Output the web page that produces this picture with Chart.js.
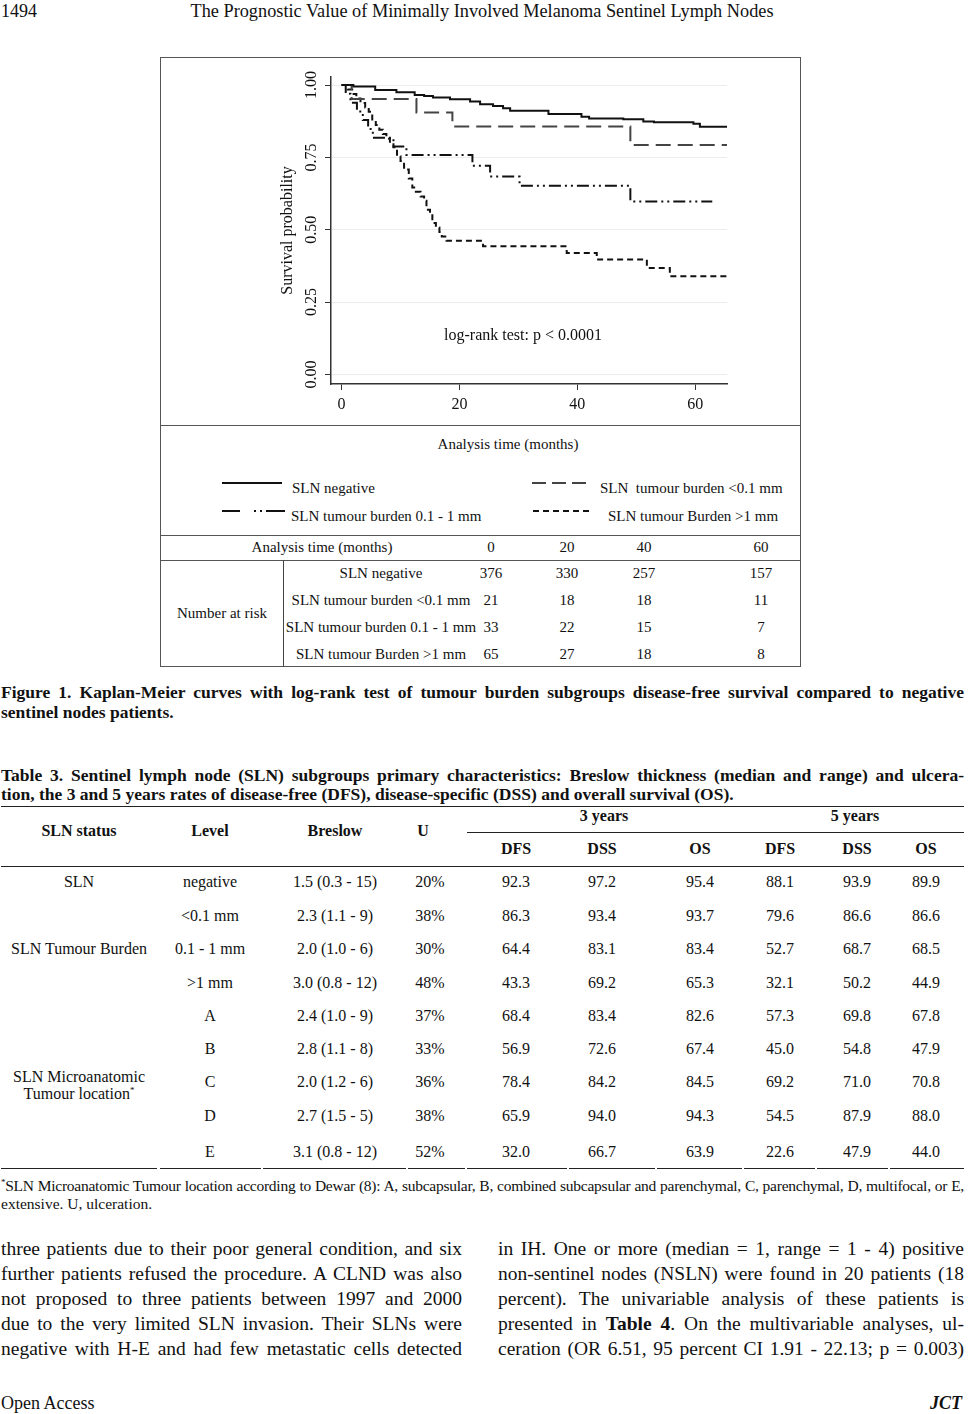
<!DOCTYPE html>
<html>
<head>
<meta charset="utf-8">
<script src="https://cdn.jsdelivr.net/npm/chart.js@4.4.1/dist/chart.umd.min.js"></script>
<style>
  body { margin: 0; background: #fff; font-family: "Liberation Serif", "Times New Roman", serif; color: #111; }
  #page { position: relative; width: 968px; height: 1414px; overflow: hidden; }
  .a { position: absolute; white-space: nowrap; }
  .c { transform: translate(-50%, -50%); }
  .l { transform: translate(0, -50%); }
  .j { text-align: justify; text-align-last: justify; white-space: nowrap; }
  .b { font-weight: bold; }
  .hl { position: absolute; height: 0; border-top: 1px solid #222; }
  .vl { position: absolute; width: 0; border-left: 1px solid #444; }
  #frame { position: absolute; left: 160px; top: 57px; width: 641px; height: 610px; box-sizing: border-box; border: 1px solid #555; }
  .chartTxt { font-size: 15px; }
  .risk { font-size: 15px; }
  .tbl { font-size: 16px; }
  .cap { font-size: 17.5px; }
  .body { font-size: 19.5px; line-height: 25px; }
</style>
</head>
<body>
<div id="page">
  <div class="a l" style="left:1px;top:11px;font-size:18px;">1494</div>
  <div class="a c" style="left:482px;top:11px;font-size:18.3px;">The Prognostic Value of Minimally Involved Melanoma Sentinel Lymph Nodes</div>

  <div id="frame"></div>
  <canvas id="kmChart" width="639" height="366" style="position:absolute;left:161px;top:58px;"></canvas>
  <div class="a c" style="left:523px;top:335px;font-size:16px;">log-rank test: p &lt; 0.0001</div>

  <div class="hl" style="left:160px;top:425px;width:641px;border-color:#555;"></div>
  <div class="a c chartTxt" style="left:508px;top:444px;">Analysis time (months)</div>
  <div class="hl" style="left:160px;top:535px;width:641px;border-color:#555;"></div>
  <div class="hl" style="left:160px;top:560px;width:641px;border-color:#555;"></div>
  <div class="vl" style="left:283px;top:560px;height:107px;"></div>

  <div class="a j b cap" data-w="963" style="left:1px;top:682px;">Figure 1. Kaplan-Meier curves with log-rank test of tumour burden subgroups disease-free survival compared to negative</div>
  <div class="a b cap" style="left:1px;top:702px;">sentinel nodes patients.</div>

  <div class="a j b cap" data-w="963" style="left:1px;top:765px;">Table 3. Sentinel lymph node (SLN) subgroups primary characteristics: Breslow thickness (median and range) and ulcera-</div>
  <div class="a b cap" style="left:1px;top:784px;">tion, the 3 and 5 years rates of disease-free (DFS), disease-specific (DSS) and overall survival (OS).</div>

  <div class="a j" data-w="963" style="left:1px;top:1177px;font-size:15.5px;"><sup style="font-size:9px;">*</sup>SLN Microanatomic Tumour location according to Dewar (8): A, subcapsular, B, combined subcapsular and parenchymal, C, parenchymal, D, multifocal, or E,</div>
  <div class="a" style="left:1px;top:1195px;font-size:15.5px;">extensive. U, ulceration.</div>

  <div class="a body" style="left:1px;top:1236px;">
    <div class="j" data-w="461">three patients due to their poor general condition, and six</div>
    <div class="j" data-w="461">further patients refused the procedure. A CLND was also</div>
    <div class="j" data-w="461">not proposed to three patients between 1997 and 2000</div>
    <div class="j" data-w="461">due to the very limited SLN invasion. Their SLNs were</div>
    <div class="j" data-w="461">negative with H-E and had few metastatic cells detected</div>
  </div>
  <div class="a body" style="left:498px;top:1236px;">
    <div class="j" data-w="466">in IH. One or more (median = 1, range = 1 - 4) positive</div>
    <div class="j" data-w="466">non-sentinel nodes (NSLN) were found in 20 patients (18</div>
    <div class="j" data-w="466">percent). The univariable analysis of these patients is</div>
    <div class="j" data-w="466">presented in <b>Table 4</b>. On the multivariable analyses, ul-</div>
    <div class="j" data-w="466">ceration (OR 6.51, 95 percent CI 1.91 - 22.13; p = 0.003)</div>
  </div>

  <div class="a l" style="left:1px;top:1403px;font-size:18px;">Open Access</div>
  <div class="a l" style="left:930px;top:1403px;font-size:18px;font-weight:bold;font-style:italic;">JCT</div>
</div>

<script>
// Kaplan-Meier curves (months, survival probability)
const negTime = [0, 2.0, 5.7, 9.3, 12.4, 14.0, 15.5, 18.4, 21.8, 23.5, 25.7, 27.4, 28.6, 35.1, 40.7, 42.0, 47.8, 51.2, 53.0, 59.7, 60.8, 65.4];
const negSurv = [1.000, 0.995, 0.983, 0.975, 0.966, 0.962, 0.957, 0.951, 0.943, 0.934, 0.928, 0.920, 0.911, 0.900, 0.891, 0.885, 0.882, 0.874, 0.872, 0.866, 0.856, 0.856];

const lowTime = [0, 1.7, 12.7, 18.8, 49.0, 65.4];
const lowSurv = [1.000, 0.952, 0.905, 0.857, 0.793, 0.793];

const midTime = [0, 0.7, 1.5, 2.6, 3.6, 4.5, 5.3, 8.8, 11.0, 22.2, 25.2, 30.2, 49.0, 62.9];
const midSurv = [1.000, 0.970, 0.939, 0.909, 0.879, 0.848, 0.818, 0.788, 0.758, 0.721, 0.684, 0.652, 0.598, 0.598];

const highTime = [0, 1.0, 1.8, 2.5, 3.2, 4.0, 4.6, 5.2, 5.8, 6.4, 7.0, 7.6, 8.2, 8.8, 9.4, 10.0, 10.6, 11.4, 12.0, 12.6, 13.4, 14.0, 14.4, 15.0, 15.4, 16.0, 16.6, 17.0, 17.8, 24.0, 38.2, 43.3, 51.8, 55.7, 65.4];
const highSurv = [1.000, 0.985, 0.969, 0.954, 0.938, 0.923, 0.908, 0.877, 0.862, 0.846, 0.831, 0.815, 0.800, 0.785, 0.754, 0.738, 0.708, 0.677, 0.646, 0.631, 0.615, 0.600, 0.569, 0.554, 0.523, 0.508, 0.492, 0.477, 0.462, 0.443, 0.420, 0.397, 0.368, 0.339, 0.339];

const seriesNames = ['SLN negative', 'SLN  tumour burden <0.1 mm', 'SLN tumour burden 0.1 - 1 mm', 'SLN tumour Burden >1 mm'];
const xTicks = [0, 20, 40, 60];
const yTicks = [0, 0.25, 0.5, 0.75, 1];

// number at risk
const riskTimes = [0, 20, 40, 60];
const riskLabels = ['SLN negative', 'SLN tumour burden <0.1 mm', 'SLN tumour burden 0.1 - 1 mm', 'SLN tumour Burden >1 mm'];
const riskNeg = [376, 330, 257, 157];
const riskLow = [21, 18, 18, 11];
const riskMid = [33, 22, 15, 7];
const riskHigh = [65, 27, 18, 8];

// Table 3
const t3Level = ['negative', '<0.1 mm', '0.1 - 1 mm', '>1 mm', 'A', 'B', 'C', 'D', 'E'];
const t3Breslow = ['1.5 (0.3 - 15)', '2.3 (1.1 - 9)', '2.0 (1.0 - 6)', '3.0 (0.8 - 12)', '2.4 (1.0 - 9)', '2.8 (1.1 - 8)', '2.0 (1.2 - 6)', '2.7 (1.5 - 5)', '3.1 (0.8 - 12)'];
const t3U = ['20%', '38%', '30%', '48%', '37%', '33%', '36%', '38%', '52%'];
const t3Dfs3 = ['92.3', '86.3', '64.4', '43.3', '68.4', '56.9', '78.4', '65.9', '32.0'];
const t3Dss3 = ['97.2', '93.4', '83.1', '69.2', '83.4', '72.6', '84.2', '94.0', '66.7'];
const t3Os3 = ['95.4', '93.7', '83.4', '65.3', '82.6', '67.4', '84.5', '94.3', '63.9'];
const t3Dfs5 = ['88.1', '79.6', '52.7', '32.1', '57.3', '45.0', '69.2', '54.5', '22.6'];
const t3Dss5 = ['93.9', '86.6', '68.7', '50.2', '69.8', '54.8', '71.0', '87.9', '47.9'];
const t3Os5 = ['89.9', '86.6', '68.5', '44.9', '67.8', '47.9', '70.8', '88.0', '44.0'];

const page = document.getElementById('page');
function put(x, y, text, cls, style) {
    const d = document.createElement('div');
    d.className = 'a ' + (cls || 'c');
    d.style.left = x + 'px';
    d.style.top = y + 'px';
    if (style) d.style.cssText += style;
    d.innerHTML = text;
    page.appendChild(d);
    return d;
}
function esc(s) { return s.replace(/</g, '&lt;').replace(/>/g, '&gt;'); }
function pts(t, s) { return t.map((v, i) => ({ x: v, y: s[i] })); }

// justified lines: squeeze letters a bit if the natural width is too long
document.querySelectorAll('[data-w]').forEach(el => {
    const w = +el.dataset.w;
    el.style.width = w + 'px';
    if (el.scrollWidth > w) {
        const n = el.textContent.length;
        el.style.letterSpacing = (-(el.scrollWidth - w) / n - 0.05) + 'px';
    }
});

Chart.defaults.font.family = '"Liberation Serif", "Times New Roman", serif';
Chart.defaults.color = '#111';

const styles = [
    { color: '#111', dash: [] },
    { color: '#444', dash: [15, 7] },
    { color: '#111', dash: [12, 4, 2, 4, 2, 4] },
    { color: '#111', dash: [6, 4] }
];
const curves = [pts(negTime, negSurv), pts(lowTime, lowSurv), pts(midTime, midSurv), pts(highTime, highSurv)];

const kmChart = new Chart(document.getElementById('kmChart'), {
    type: 'line',
    data: {
        datasets: curves.map((d, i) => ({
            label: seriesNames[i],
            data: d,
            borderColor: styles[i].color,
            borderDash: styles[i].dash,
            borderWidth: 2,
            stepped: 'before',
            pointRadius: 0,
            fill: false
        }))
    },
    options: {
        responsive: false,
        animation: false,
        devicePixelRatio: 1,
        layout: { padding: { left: 110, top: 19, right: 73, bottom: 4 } },
        plugins: { legend: { display: false }, tooltip: { enabled: false } },
        scales: {
            x: {
                type: 'linear',
                min: -1.8,
                max: 65.4,
                afterBuildTicks: (s) => { s.ticks = xTicks.map(v => ({ value: v })); },
                afterFit: (s) => { s.height = 36; },
                grid: { drawOnChartArea: false, tickLength: 6, tickColor: '#333' },
                border: { color: '#333', width: 1.5 },
                ticks: { font: { size: 16 }, color: '#111', padding: 5 }
            },
            y: {
                type: 'linear',
                min: -0.033,
                max: 1.028,
                afterBuildTicks: (s) => { s.ticks = yTicks.map(v => ({ value: v })); },
                afterFit: (s) => { s.width = 60; },
                grid: { color: '#ececec', tickLength: 6, tickColor: '#333' },
                border: { color: '#333', width: 1.5 },
                ticks: {
                    font: { size: 16 }, color: '#111', padding: -1,
                    minRotation: 90, maxRotation: 90, crossAlign: 'center',
                    callback: (v) => Number(v).toFixed(2)
                },
                title: { display: true, text: 'Survival probability', font: { size: 16 }, color: '#111', padding: { top: 7, bottom: 0 } }
            }
        }
    }
});

// legend (html, line samples as svg)
const legendPos = [
    { x1: 222, x2: 282, y: 488, tx: 292 },
    { x1: 532, x2: 590, y: 488, tx: 600 },
    { x1: 222, x2: 285, y: 516, tx: 291 },
    { x1: 533, x2: 590, y: 516, tx: 608 }
];
const dashAttr = ['', '14 6', '18 14 2 4 2 4 20', '6 4'];
legendPos.forEach((p, i) => {
    const svg = document.createElementNS('http://www.w3.org/2000/svg', 'svg');
    svg.setAttribute('width', p.x2 - p.x1);
    svg.setAttribute('height', 6);
    svg.style.cssText = 'position:absolute;left:' + p.x1 + 'px;top:' + (p.y - 8) + 'px;';
    const ln = document.createElementNS('http://www.w3.org/2000/svg', 'line');
    ln.setAttribute('x1', 0); ln.setAttribute('x2', p.x2 - p.x1);
    ln.setAttribute('y1', 3); ln.setAttribute('y2', 3);
    ln.setAttribute('stroke', styles[i].color);
    ln.setAttribute('stroke-width', 2.2);
    if (dashAttr[i]) ln.setAttribute('stroke-dasharray', dashAttr[i]);
    svg.appendChild(ln);
    page.appendChild(svg);
    put(p.tx, p.y, esc(seriesNames[i]).replace(/  /g, '&nbsp; '), 'l chartTxt');
});

// number at risk table
const riskCols = [491, 567, 644, 761];
const riskRowsY = [573, 600, 627, 654];
put(322, 547, 'Analysis time (months)', 'c risk');
riskTimes.forEach((t, i) => put(riskCols[i], 547, t, 'c risk'));
put(222, 613, 'Number at risk', 'c risk');
[riskNeg, riskLow, riskMid, riskHigh].forEach((row, r) => {
    put(381, riskRowsY[r], esc(riskLabels[r]), 'c risk');
    row.forEach((v, i) => put(riskCols[i], riskRowsY[r], v, 'c risk'));
});

// Table 3
const colX = [79, 210, 335, 430, 516, 602, 700, 780, 857, 926];
const rowY = [882, 916, 949, 983, 1016, 1049, 1082, 1116, 1152];
const rule = (x, y, w) => { const d = document.createElement('div'); d.className = 'hl'; d.style.cssText = 'left:' + x + 'px;top:' + y + 'px;width:' + w + 'px;'; page.appendChild(d); };
rule(1, 806, 963);
rule(467, 832, 497);
rule(1, 866, 963);
[[1, 157], [160, 261], [263, 406], [408, 465], [467, 567], [569, 655], [657, 742], [744, 815], [817, 888], [890, 964]].forEach(s => rule(s[0], 1168, s[1] - s[0]));

const hd = 'c tbl b';
put(79, 831, 'SLN status', hd); put(210, 831, 'Level', hd); put(335, 831, 'Breslow', hd); put(423, 831, 'U', hd);
put(604, 816, '3 years', hd); put(855, 816, '5 years', hd);
['DFS', 'DSS', 'OS', 'DFS', 'DSS', 'OS'].forEach((h, i) => put(colX[i + 4], 849, h, hd));

const cols = [t3Level, t3Breslow, t3U, t3Dfs3, t3Dss3, t3Os3, t3Dfs5, t3Dss5, t3Os5];
t3Level.forEach((_, r) => {
    cols.forEach((c, k) => put(colX[k + 1], rowY[r], esc(c[r]), 'c tbl'));
});
put(79, rowY[0], 'SLN', 'c tbl');
put(79, rowY[2], 'SLN Tumour Burden', 'c tbl');
put(79, 1077, 'SLN Microanatomic', 'c tbl');
put(79, 1094, 'Tumour location<sup style="font-size:9px;">*</sup>', 'c tbl');
</script>
</body>
</html>
